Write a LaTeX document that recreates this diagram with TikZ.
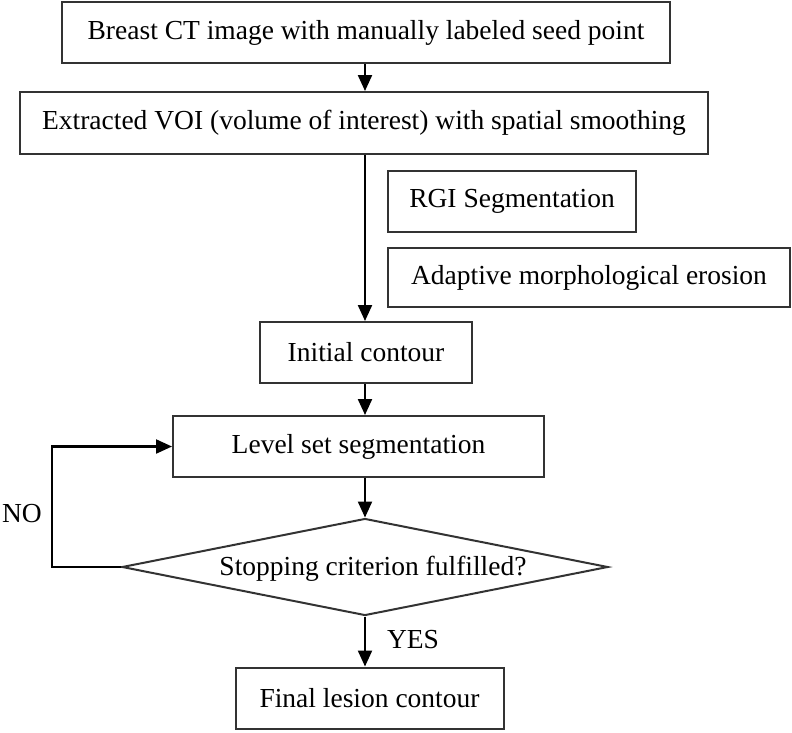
\documentclass[tikz,border=0pt]{standalone}
\usepackage{fontspec}
\setmainfont{Liberation Serif}
\usetikzlibrary{arrows.meta,shapes.geometric}
\begin{document}
\begin{tikzpicture}[x=1pt,y=-1pt,
  font=\fontsize{27.5}{33}\selectfont,
  box/.style={draw=black!80,line width=2pt,rectangle,inner sep=0pt,anchor=center},
  dec/.style={draw=black!80,line width=2pt,diamond,aspect=5,inner sep=0pt},
  arr/.style={draw=black,line width=2.2pt,-{Triangle[length=16pt,width=14pt]}},
  lbl/.style={inner sep=0pt}]
\useasboundingbox (0,0) rectangle (792,732);
\coordinate (ax) at (365,0);
\node[box,minimum width=608pt,minimum height=61pt] (b1) at (366,32.5) {Breast CT image with manually labeled seed point};
\node[box,minimum width=688pt,minimum height=62pt] (b2) at (364,123) {Extracted VOI (volume of interest) with spatial smoothing};
\node[box,minimum width=248pt,minimum height=61pt] (rgi) at (512,201.5) {RGI Segmentation};
\node[box,minimum width=402pt,minimum height=59pt] (ame) at (589,277.5) {Adaptive morphological erosion};
\node[box,minimum width=212pt,minimum height=61pt] (init) at (366,352.5) {Initial contour};
\node[box,minimum width=371pt,minimum height=61pt] (lvl) at (358.5,446.5) {Level set segmentation};
\node[dec,minimum width=486pt,minimum height=97pt] (dia) at (365,567) {};
\node[lbl] (diat) at (373,569) {Stopping criterion fulfilled?};
\node[box,minimum width=268pt,minimum height=61pt] (fin) at (369.5,698) {Final lesion contour};
\node[lbl] (no) at (22,514) {NO};
\node[lbl] (yes) at (413,640) {YES};
\coordinate (loop) at (52,567);
\draw[arr] (b1.south -| ax) -- (b2.north -| ax);
\draw[arr] (b2.south -| ax) -- (init.north -| ax);
\draw[arr] (init.south -| ax) -- (lvl.north -| ax);
\draw[arr] (lvl.south -| ax) -- (dia.north);
\draw[arr] (dia.south) -- (fin.north -| ax);
\draw[arr] (dia.west) -- (loop) |- (lvl.west);
\end{tikzpicture}
\end{document}
